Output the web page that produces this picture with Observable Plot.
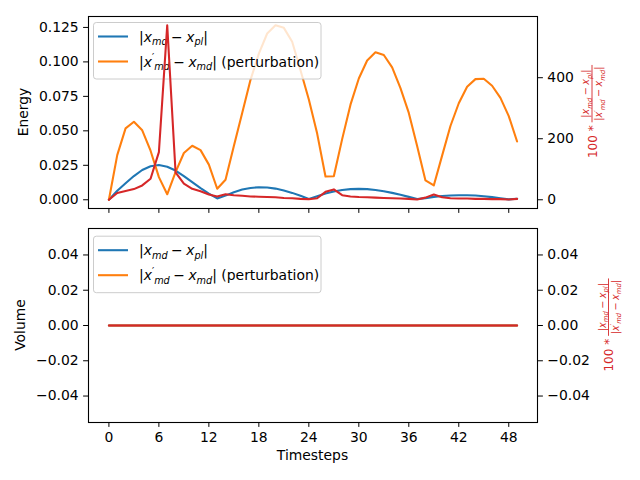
<!DOCTYPE html>
<html>
<head>
<meta charset="utf-8">
<script src="https://cdn.jsdelivr.net/npm/d3@7"></script>
<script src="https://cdn.jsdelivr.net/npm/@observablehq/plot@0.6"></script>
<style>
html,body{margin:0;padding:0;background:#fff;}
#chart{position:relative;width:640px;height:480px;overflow:hidden;background:#fff;}
#chart svg{display:block;}
</style>
</head>
<body>
<div id="chart"></div>
<script>
// ---------------- data ----------------
const timesteps = [0,1,2,3,4,5,6,7,8,9,10,11,12,13,14,15,16,17,18,19,20,21,22,23,24,25,26,27,28,29,30,31,32,33,34,35,36,37,38,39,40,41,42,43,44,45,46,47,48,49];

// Energy panel
const energyDiff = [0,0.0066,0.0120,0.0172,0.0216,0.0243,0.0252,0.0240,0.0212,0.0172,0.0128,0.0085,0.0045,0.0010,0.0030,0.0055,0.0074,0.0086,0.0091,0.0089,0.0081,0.0068,0.0050,0.0029,0.0006,0.0025,0.0045,0.0060,0.0071,0.0077,0.0079,0.0077,0.0071,0.0062,0.0050,0.0036,0.0021,0.0005,0.0012,0.0021,0.0027,0.0031,0.0033,0.0033,0.0031,0.0026,0.0019,0.0011,0.0003,0.0008];
const energyPert = [0,0.0324,0.0518,0.0566,0.0504,0.0356,0.0164,0.0040,0.0200,0.0339,0.0392,0.0360,0.0255,0.0080,0.0145,0.0390,0.0630,0.0870,0.1060,0.1206,0.1266,0.1247,0.1146,0.0940,0.0727,0.0480,0.0169,0.0171,0.0440,0.0690,0.0880,0.1010,0.1070,0.1050,0.0960,0.0810,0.0630,0.0390,0.0140,0.0104,0.0320,0.0535,0.0700,0.0820,0.0875,0.0878,0.0827,0.0739,0.0607,0.0423];
const energyRatio = [0,22,29,35,47,69,156,572,90,53,36,28,17,11,18,15,13,11,10,9,8,6,5,3,2,5,26,34,15,11,9,8,7,6,5,4,3,1,7,17,8,5,4,4,3,3,2,2,1,3];

// Volume panel
const volumeDiff = [0,0,0,0,0,0,0,0,0,0,0,0,0,0,0,0,0,0,0,0,0,0,0,0,0,0,0,0,0,0,0,0,0,0,0,0,0,0,0,0,0,0,0,0,0,0,0,0,0,0];
const volumePert = [0,0,0,0,0,0,0,0,0,0,0,0,0,0,0,0,0,0,0,0,0,0,0,0,0,0,0,0,0,0,0,0,0,0,0,0,0,0,0,0,0,0,0,0,0,0,0,0,0,0];
const volumeRatio = [0,0,0,0,0,0,0,0,0,0,0,0,0,0,0,0,0,0,0,0,0,0,0,0,0,0,0,0,0,0,0,0,0,0,0,0,0,0,0,0,0,0,0,0,0,0,0,0,0,0];

// ticks
const xTicks = [0,6,12,18,24,30,36,42,48];
const energyTicks = [0,0.025,0.05,0.075,0.1,0.125];
const energyRatioTicks = [0,200,400];
const volumeTicks = [-0.04,-0.02,0,0.02,0.04];
const volumeRatioTicks = [-0.04,-0.02,0,0.02,0.04];

// labels
const MINUS = "\u2005−\u2005";
const xLabel = "Timesteps";
const energyLabel = "Energy";
const volumeLabel = "Volume";
const diffLabel = [{t:"|"},{t:"x",i:1},{t:"md",i:1,sub:1},{t:MINUS},{t:"x",i:1},{t:"pl",i:1,sub:1},{t:"|"}];
const pertLabel = [{t:"|"},{t:"x",i:1},{t:"′",sup:1},{t:"md",i:1,sub:1},{t:MINUS},{t:"x",i:1},{t:"md",i:1,sub:1},{t:"|"},{t:" (perturbation)"}];
const ratioPrefix = "100 *";
const ratioNum = [{t:"|"},{t:"x",i:1},{t:"md",i:1,sub:1},{t:MINUS},{t:"x",i:1},{t:"pl",i:1,sub:1},{t:"|"}];
const ratioDen = [{t:"|"},{t:"x",i:1},{t:"′",sup:1},{t:"md",i:1,sub:1},{t:MINUS},{t:"x",i:1},{t:"md",i:1,sub:1},{t:"|"}];

const colors = {diff:"#1f77b4", pert:"#ff7f0e", ratio:"#d62728"};
const FONT = "DejaVu Sans, Verdana, sans-serif";
const FS = 13.9;
const LW = 2.08;

// -------------- helpers --------------
function mathText(parent, segs, {x=0, y=0, size=FS, anchor="start", fill="black"} = {}) {
  const t = parent.append("text")
    .attr("x", x).attr("y", y)
    .attr("font-size", size).attr("fill", fill)
    .attr("text-anchor", anchor)
    .attr("font-family", FONT)
    .style("white-space", "pre");
  let cur = 0;
  for (const s of segs) {
    const small = s.sub || s.sup;
    const target = s.sub ? 0.27 * size : s.sup ? -0.36 * size : 0;
    const ts = t.append("tspan").text(s.t).attr("font-size", small ? size * 0.7 : size);
    if (target !== cur) ts.attr("dy", target - cur);
    if (s.i) ts.attr("font-style", "italic");
    cur = target;
  }
  return t;
}

function legendMark(boxTop) {
  return () => {
    const g = d3.create("svg:g");
    g.append("rect")
      .attr("x", 93.5).attr("y", boxTop + 0.5)
      .attr("width", 227.5).attr("height", 56.5)
      .attr("rx", 2.8)
      .attr("fill", "white").attr("fill-opacity", 0.8)
      .attr("stroke", "#cccccc").attr("stroke-width", 1);
    const entries = [[diffLabel, colors.diff], [pertLabel, colors.pert]];
    entries.forEach(([segs, c], i) => {
      const yy = boxTop + 14.5 + i * 25;
      g.append("line").attr("x1", 98).attr("x2", 128).attr("y1", yy).attr("y2", yy)
        .attr("stroke", c).attr("stroke-width", LW);
      mathText(g, segs, {x: 139, y: yy + 5});
    });
    return g.node();
  };
}

function panel(o) {
  const [y0, y1] = o.yDomain, [r0, r1] = o.rDomain;
  const toY = r => y0 + (r - r0) * (y1 - y0) / (r1 - r0);
  const fromY = y => r0 + (y - y0) * (r1 - r0) / (y1 - y0);
  const rows = timesteps.map((t, i) => ({t, diff: o.diff[i], pert: o.pert[i], ratio: toY(o.ratio[i])}));
  return Plot.plot({
    width: 640, height: o.height,
    marginLeft: 88, marginRight: 103, marginTop: o.marginTop, marginBottom: o.marginBottom,
    x: {domain: [-2.45, 51.45]},
    y: {domain: o.yDomain},
    style: {fontFamily: FONT, fontSize: FS + "px", color: "black", background: "white", overflow: "visible"},
    marks: [
      Plot.line(rows, {x: "t", y: "diff", stroke: colors.diff, strokeWidth: LW}),
      Plot.line(rows, {x: "t", y: "pert", stroke: colors.pert, strokeWidth: LW}),
      legendMark(o.legendTop),
      Plot.line(rows, {x: "t", y: "ratio", stroke: colors.ratio, strokeWidth: LW}),
      Plot.axisX({ticks: xTicks, tickSize: 4.9, tickPadding: 4.9, fontSize: FS, label: null,
        tickFormat: o.showX ? (d => String(d)) : (() => "")}),
      Plot.axisY({ticks: o.leftTicks, tickSize: 4.9, tickPadding: 4.9, fontSize: FS, label: null, tickFormat: o.leftFmt}),
      Plot.axisY({ticks: o.rightTicks.map(toY), anchor: "right", tickSize: 4.9, tickPadding: 4.9, fontSize: FS, label: null,
        tickFormat: d => o.rightFmt(fromY(d))}),
      Plot.frame({stroke: "black", strokeWidth: 1.1})
    ]
  });
}

function addLabels(svg, o) {
  const s = d3.select(svg);
  // left y label
  s.append("text")
    .attr("transform", `translate(${o.ylabelX},${o.ylabelCY}) rotate(-90)`)
    .attr("text-anchor", "middle").attr("font-family", FONT).attr("font-size", FS).attr("fill", "black")
    .text(o.ylabel);
  // right y label: 100 * fraction, rotated
  const g = s.append("g").attr("transform", `translate(${o.rlabelX},${o.rlabelCY}) rotate(-90)`);
  const pre = g.append("text").attr("x", 0).attr("y", 4.5).attr("font-family", FONT).attr("font-size", 12)
    .attr("text-anchor", "start")
    .attr("fill", colors.ratio).style("white-space", "pre").text(ratioPrefix);
  const num = mathText(g, ratioNum, {x: 0, y: -3, size: 9.7, anchor: "middle", fill: colors.ratio});
  const den = mathText(g, ratioDen, {x: 0, y: 10, size: 9.7, anchor: "middle", fill: colors.ratio});
  const preLen = pre.node().getComputedTextLength();
  const fracLen = Math.max(num.node().getComputedTextLength(), den.node().getComputedTextLength()) + 3;
  const gap = 3;
  const total = preLen + gap + fracLen;
  const start = -total / 2;
  pre.attr("x", start);
  const f0 = start + preLen + gap;
  num.attr("x", f0 + fracLen / 2);
  den.attr("x", f0 + fracLen / 2);
  g.append("line").attr("x1", f0).attr("x2", f0 + fracLen).attr("y1", 0).attr("y2", 0)
    .attr("stroke", colors.ratio).attr("stroke-width", 0.9);
  if (o.xlabel) {
    s.append("text").attr("x", 312.5).attr("y", o.xlabelY).attr("text-anchor", "middle")
      .attr("font-family", FONT).attr("font-size", FS).attr("fill", "black").text(o.xlabel);
  }
}

// -------------- build --------------
const eMax = d3.max([...energyDiff, ...energyPert]);
const rMax = d3.max(energyRatio);

const energyOpts = {
  diff: energyDiff, pert: energyPert, ratio: energyRatio,
  yDomain: [-0.05 * eMax, 1.05 * eMax], rDomain: [-0.05 * rMax, 1.05 * rMax],
  leftTicks: energyTicks, leftFmt: d3.format(".3f"),
  rightTicks: energyRatioTicks, rightFmt: d3.format("d"),
  height: 218, marginTop: 16, marginBottom: 10, showX: false,
  legendTop: 22, ylabel: energyLabel, ylabelX: 28, ylabelCY: 112,
  rlabelX: 592, rlabelCY: 111.5
};
const volumeOpts = {
  diff: volumeDiff, pert: volumePert, ratio: volumeRatio,
  yDomain: [-0.055, 0.055], rDomain: [-0.055, 0.055],
  leftTicks: volumeTicks, leftFmt: d3.format(".2f"),
  rightTicks: volumeRatioTicks, rightFmt: d3.format(".2f"),
  height: 262, marginTop: 10, marginBottom: 58, showX: true,
  legendTop: 17.7, ylabel: volumeLabel, ylabelX: 25, ylabelCY: 107,
  rlabelX: 608.5, rlabelCY: 107, xlabel: xLabel, xlabelY: 242
};

const chart = document.getElementById("chart");
const energyPanel = panel(energyOpts);
const volumePanel = panel(volumeOpts);
chart.appendChild(energyPanel);
chart.appendChild(volumePanel);
addLabels(energyPanel, energyOpts);
addLabels(volumePanel, volumeOpts);
</script>
</body>
</html>
